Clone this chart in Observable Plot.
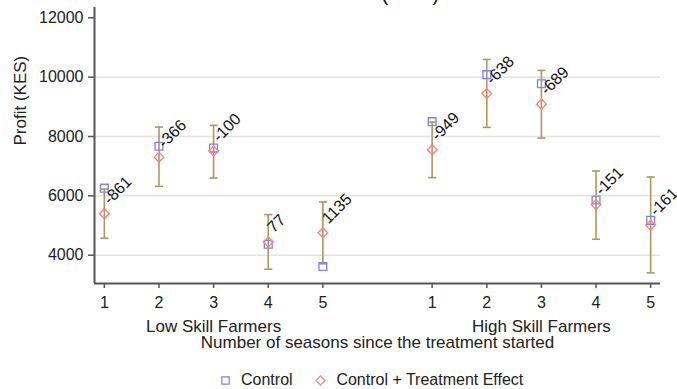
<!DOCTYPE html>
<html>
<head>
<meta charset="utf-8">
<script src="https://cdn.jsdelivr.net/npm/d3@7"></script>
<script src="https://cdn.jsdelivr.net/npm/@observablehq/plot@0.6"></script>
<style>
  body { margin: 0; background: #fff; font-family: "Liberation Sans", Arial, Helvetica, sans-serif; }
  #chart { position: relative; width: 677px; height: 389px; overflow: hidden; background: #fff; }
  #legend { position: absolute; left: 218px; top: 371px; line-height: 18px; }
  #legend .lg-swatches, #legend div { font-family: "Liberation Sans", Arial, sans-serif !important; font-size: 16px !important; color: #222; margin: 0 !important; min-height: 0 !important; }
  #legend span, #legend .lg-swatch { margin-right: 1.3em; }
  #legend svg { margin-right: 0.5em; }
</style>
</head>
<body>
<div id="chart"><div id="legend"></div></div>
<script>
// ---- data ----
const groups = ["Low Skill Farmers", "High Skill Farmers"];
const seasons = [1, 2, 3, 4, 5];
const seriesNames = ["Control", "Control + Treatment Effect"];
const control = [6260, 7670, 7610, 4370, 3620, 8500, 10085, 9780, 5860, 5175];
const treated = [5400, 7304, 7510, 4447, 4755, 7551, 9447, 9091, 5709, 5014];
const ciLow   = [4570, 6320, 6601, 3528, 3710, 6615, 8308, 7948, 4538, 3404];
const ciHigh  = [6230, 8318, 8375, 5369, 5793, 8486, 10596, 10226, 6837, 6635];
const effects = [-861, -366, -100, 77, 1135, -949, -638, -689, -151, -161];
const yTicks = [4000, 6000, 8000, 10000, 12000];
const gridTicks = [4000, 6000, 8000, 10000];
const yTitle = "Profit (KES)";
const xTitle = "Number of seasons since the treatment started";
const topTitle = "Profit (KES)";

// ---- layout helpers ----
const groupGap = 1;                       // empty slot between groups
const slot = seasons.length + groupGap;   // positions per group
const rows = control.map((c, i) => {
  const g = Math.floor(i / seasons.length);
  const s = seasons[i % seasons.length];
  return {group: groups[g], season: s, pos: g * slot + s, control: c, treated: treated[i], lo: ciLow[i], hi: ciHigh[i], effect: effects[i]};
});
const points = rows.flatMap(r => [
  {pos: r.pos, value: r.control, series: seriesNames[0]},
  {pos: r.pos, value: r.treated, series: seriesNames[1]}
]);
const tickLabel = new Map(rows.map(r => [r.pos, String(r.season)]));
const groupCenters = groups.map((g, i) => i * slot + d3.mean(seasons));
const xDomain = [0.82, groups.length * slot - groupGap + 0.18];
const yDomain = [3047, 12347];

const font = '"Liberation Sans", Arial, Helvetica, sans-serif';
const ciColor = "#a8995e";
const capSymbol = {
  draw(ctx, size) { const h = Math.sqrt(size / Math.PI); ctx.moveTo(-h, 0); ctx.lineTo(h, 0); }
};

const plot = Plot.plot({
  width: 677,
  height: 360,
  marginLeft: 94,
  marginRight: 17,
  marginTop: 7,
  marginBottom: 77,
  style: {fontFamily: font, fontSize: "16px", color: "#222", background: "transparent", overflow: "visible"},
  x: {domain: xDomain, axis: null},
  y: {domain: yDomain, axis: null},
  color: {domain: seriesNames, range: ["#7f7fff", "#ff7f7f"]},
  symbol: {domain: seriesNames, range: ["square", "diamond2"]},
  marks: [
    Plot.gridY(gridTicks, {stroke: "#e4e4e4", strokeOpacity: 1, strokeWidth: 1.5}),
    Plot.axisY(yTicks, {tickSize: 6, tickPadding: 5, stroke: "#555", strokeWidth: 1.5, fill: "#222", fontSize: 16, tickFormat: d => String(d), label: null}),
    Plot.axisX(rows.map(r => r.pos), {tickSize: 5, tickPadding: 8, stroke: "#555", strokeWidth: 1.5, fill: "#222", fontSize: 16, tickFormat: d => tickLabel.get(d), label: null}),
    Plot.ruleX([xDomain[0]], {stroke: "#555", strokeWidth: 2}),
    Plot.ruleY([yDomain[0]], {stroke: "#555", strokeWidth: 2}),
    Plot.ruleX(rows, {x: "pos", y1: "lo", y2: "hi", stroke: ciColor, strokeWidth: 1.6}),
    Plot.dot(rows, {x: "pos", y: "lo", symbol: capSymbol, r: 4, fill: "none", stroke: ciColor, strokeWidth: 1.6}),
    Plot.dot(rows, {x: "pos", y: "hi", symbol: capSymbol, r: 4, fill: "none", stroke: ciColor, strokeWidth: 1.6}),
    Plot.dot(points, {x: "pos", y: "value", symbol: "series", stroke: "series", fill: "none", r: 4.4, strokeWidth: 1.3}),
    Plot.text(rows, {x: "pos", y: "treated", text: d => String(d.effect), textAnchor: "start", lineAnchor: "middle", rotate: -45, dx: 2, dy: -12, fontSize: 16, fill: "#111"}),
    Plot.text(groups, {x: groupCenters, text: d => d, frameAnchor: "bottom", lineAnchor: "middle", dy: 43, fontSize: 17, fill: "#222"}),
    Plot.text([xTitle], {frameAnchor: "bottom", lineAnchor: "middle", dy: 59, fontSize: 17, fill: "#222"}),
    Plot.text([yTitle], {frameAnchor: "left", rotate: -90, lineAnchor: "middle", dx: -74, fontSize: 17, fill: "#222"}),
    Plot.text([topTitle], {frameAnchor: "top", lineAnchor: "middle", dx: 4, dy: -15, fontSize: 22, fill: "#222"})
  ]
});
const chart = document.getElementById("chart");
chart.insertBefore(plot, chart.firstChild);

let legend;
try {
  legend = plot.legend("symbol", {className: "lg", r: 4.4, strokeWidth: 1.3, swatchSize: 15});
} catch (e) { legend = null; }
if (!legend) {
  legend = Plot.legend({symbol: {domain: seriesNames, range: ["square", "diamond2"]}, className: "lg"});
}
document.getElementById("legend").appendChild(legend);
</script>
</body>
</html>
